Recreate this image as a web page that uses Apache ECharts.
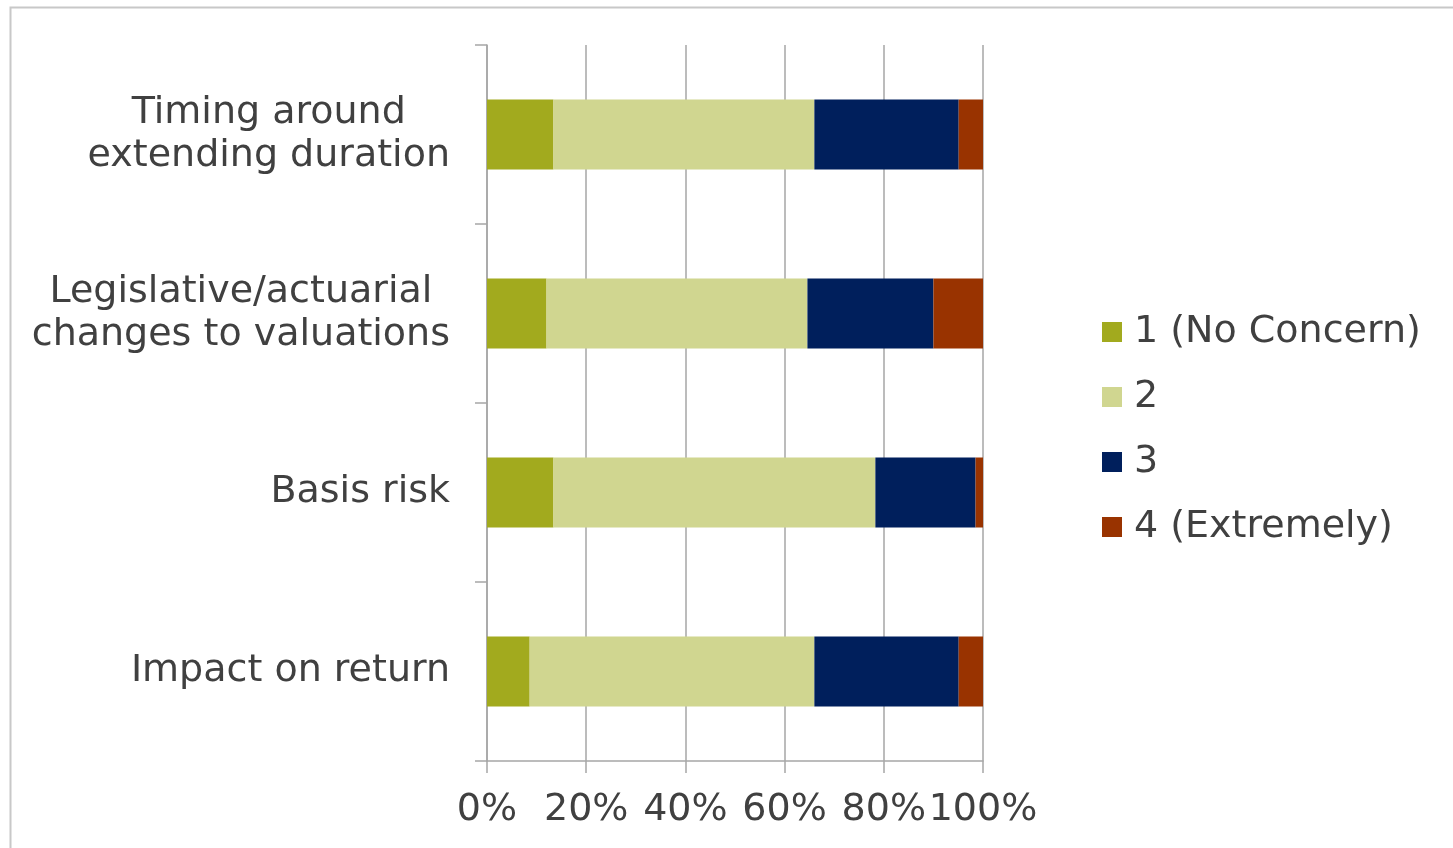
<!DOCTYPE html>
<html>
<head>
<meta charset="utf-8">
<style>
  html, body { margin: 0; padding: 0; background: #ffffff; }
  #chart { width: 1453px; height: 848px; }
</style>
<script src="https://cdn.jsdelivr.net/npm/echarts@6/dist/echarts.min.js"></script>
</head>
<body>
<div id="chart"></div>
<script>
// Survey categories, top to bottom
const categories = [
  'Timing around\nextending duration',
  'Legislative/actuarial\nchanges to valuations',
  'Basis risk',
  'Impact on return'
];

// Share of respondents (%) per concern level
const level1 = [13.4, 12.0, 13.4, 8.6];
const level2 = [52.6, 52.6, 64.9, 57.4];
const level3 = [29.1, 25.4, 20.2, 29.1];
const level4 = [4.9, 10.0, 1.5, 4.9];

const seriesNames = ['1 (No Concern)', '2', '3', '4 (Extremely)'];
const seriesColors = ['#a2aa1e', '#d0d690', '#001f5c', '#993300'];

const xTicks = [0, 20, 40, 60, 80, 100];

const FONT = '"DejaVu Sans", Verdana, sans-serif';
const FONT_SIZE = 38;
const TEXT = '#404040';
const GRID_LINE = '#a6a6a6';

// Multi-line category labels: lines centred within their block
function categoryLabel(value) {
  return value.split('\n').map(function (line) { return '{c|' + line + '}'; }).join('\n');
}

const chart = echarts.init(document.getElementById('chart'), null, { renderer: 'canvas' });

const values = [level1, level2, level3, level4];

chart.setOption({
  animation: false,
  backgroundColor: '#ffffff',
  textStyle: { fontFamily: FONT },
  graphic: [{
    type: 'rect',
    shape: { x: 10.5, y: 7.5, width: 1600, height: 1000 },
    style: { fill: 'none', stroke: '#c8c8c8', lineWidth: 2 },
    silent: true
  }],
  grid: { left: 487, right: 470, top: 45, bottom: 87, containLabel: false },
  legend: {
    orient: 'vertical',
    left: 1097,
    top: 305,
    itemWidth: 20,
    itemHeight: 20,
    itemGap: 21,
    icon: 'rect',
    textStyle: { fontFamily: FONT, fontSize: FONT_SIZE, color: TEXT, padding: [0, 0, 0, 7], lineHeight: 44 },
    data: seriesNames
  },
  xAxis: {
    type: 'value',
    min: 0,
    max: 100,
    interval: 20,
    axisLine: { show: true, lineStyle: { color: GRID_LINE, width: 1.5 } },
    axisTick: { show: true, length: 12, lineStyle: { color: GRID_LINE, width: 1.5 } },
    splitLine: { show: true, lineStyle: { color: GRID_LINE, width: 1.5 } },
    axisLabel: {
      margin: 30,
      fontFamily: FONT,
      fontSize: FONT_SIZE,
      color: TEXT,
      formatter: function (v) { return xTicks.indexOf(v) >= 0 ? v + '%' : ''; }
    }
  },
  yAxis: {
    type: 'category',
    inverse: true,
    data: categories,
    axisLine: { show: true, lineStyle: { color: GRID_LINE, width: 1.5 } },
    axisTick: { show: true, length: 12, alignWithLabel: false, lineStyle: { color: GRID_LINE, width: 1.5 } },
    splitLine: { show: false },
    axisLabel: {
      margin: 37,
      fontFamily: FONT,
      fontSize: FONT_SIZE,
      color: TEXT,
      lineHeight: 43,
      formatter: categoryLabel,
      rich: {
        c: { align: 'center', fontFamily: FONT, fontSize: FONT_SIZE, color: TEXT, lineHeight: 43 }
      }
    }
  },
  series: seriesNames.map(function (name, i) {
    return {
      name: name,
      type: 'bar',
      stack: 'total',
      barWidth: 70,
      itemStyle: { color: seriesColors[i] },
      emphasis: { disabled: true },
      data: values[i]
    };
  })
});
</script>
</body>
</html>
